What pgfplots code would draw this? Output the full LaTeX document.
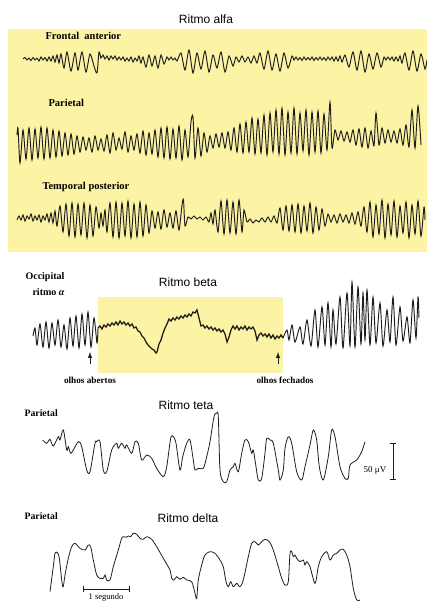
\documentclass[border=0pt]{standalone}
\usepackage{pgfplots}
\pgfplotsset{compat=1.18}
\usepackage{fontspec}
\setmainfont{Liberation Serif}
\newfontfamily\arial{Liberation Sans}
\definecolor{yel}{HTML}{FCF3A4}
\definecolor{ink}{HTML}{1E1E1E}
\tikzset{
  trace/.style={ink, line width=0.95pt, smooth, tension=0.45, mark=none},
  ttl/.style={font=\arial\fontsize{12}{14}\selectfont},
  lab/.style={font=\bfseries\fontsize{10.5}{12}\selectfont},
}
\begin{document}
\begin{tikzpicture}
\begin{axis}[
  scale only axis, width=427pt, height=603pt,
  xmin=0, xmax=427, ymin=0, ymax=603, y dir=reverse,
  hide axis, clip=false,
]
% yellow boxes
\fill[yel] (axis cs:8,29) rectangle (axis cs:427,252);
\fill[yel] (axis cs:98,297) rectangle (axis cs:283,373);

% titles and labels
\node[ttl] at (axis cs:206,19) {Ritmo alfa};
\node[lab, anchor=west] at (axis cs:42,36) {Frontal\ \ anterior};
\node[lab, anchor=west] at (axis cs:45,103) {Parietal};
\node[lab, anchor=west] at (axis cs:39,187) {Temporal posterior};
\node[anchor=west, font=\bfseries\fontsize{10}{12}\selectfont] at (axis cs:22,277) {Occipital};
\node[anchor=west, font=\bfseries\fontsize{10}{12}\selectfont] at (axis cs:29,292) {ritmo {\itshape α}};
\node[ttl] at (axis cs:188,282) {Ritmo beta};
\node[font=\bfseries\fontsize{9.2}{11}\selectfont] at (axis cs:90,380) {olhos abertos};
\node[font=\bfseries\fontsize{9.2}{11}\selectfont] at (axis cs:285,380) {olhos fechados};
\node[ttl] at (axis cs:186,405) {Ritmo teta};
\node[anchor=west, font=\bfseries\fontsize{9.8}{12}\selectfont] at (axis cs:21,413) {Parietal};
\node[ttl] at (axis cs:188,518) {Ritmo delta};
\node[anchor=west, font=\bfseries\fontsize{9.8}{12}\selectfont] at (axis cs:21,516) {Parietal};
\node[font=\fontsize{9}{11}\selectfont] at (axis cs:375,470) {50 μV};
\node[font=\fontsize{8.5}{10}\selectfont, anchor=base] at (axis cs:106,599.5) {1 segundo};

% arrows
\draw[-{latex}, line width=1pt, ink] (axis cs:90,364) -- (axis cs:90,352);
\draw[-{latex}, line width=1pt, ink] (axis cs:278,364) -- (axis cs:278,352);

% scale bars
\draw[line width=1pt, ink] (axis cs:393,443) -- (axis cs:393,479);
\draw[line width=1pt, ink] (axis cs:390,443) -- (axis cs:396,443);
\draw[line width=1pt, ink] (axis cs:390,479) -- (axis cs:396,479);
\draw[line width=1pt, ink] (axis cs:83,589) -- (axis cs:129,589);
\draw[line width=1pt, ink] (axis cs:83,586) -- (axis cs:83,592);
\draw[line width=1pt, ink] (axis cs:129,586) -- (axis cs:129,592);

% Frontal anterior
\addplot[trace] coordinates {
(23,59)(25,57.5)(27,60)(29,58)(31,60.5)(33,57.5)(35,60)(37,58)(39,61)(41,57)(43,60)(45,57.5)(47,61)(49,57)(51,61)(53,56)(55,62)(57,55)(59,63)(61,54)
(64,68)(67,52)(71,71)(75,53)(78,70)(82,52)(86,72)(90,54)(94,66)(97,73)(99,52)
(101,58)(103,55)(105,59)(107,56)(109,60)(111,56)(113,59)(115,56)(117,60)(119,57)(121,60)(123,57)(125,61)(127,58)(129,61)(131,57)(133,62)(135,58)(137,61)(139,56)(141,63)(143,57)
(146,67)(149,55)(152,66)(155,56)(158,68)(161,55)(164,64)(167,57)
(169,60)(171,57)(173,60)(175,58)(177,61)
(181,53)(185,70)(189,50)(193,73)(197,53)(201,69)(205,51)(209,72)(213,55)(217,68)(221,52)(225,72)(229,56)(233,66)
(236,57)(239,62)(242,56)(245,62)(248,57)(251,63)(254,56)(257,63)
(260,53)(264,69)(268,51)(272,70)(276,54)(280,71)(284,53)(288,68)(292,56)
(294,60)(296,57)(298,60)(300,57.5)(302,60.5)(304,57)(306,60)(308,57.5)(310,60)(312,57)(314,60.5)(316,57.5)(318,60)(320,57)(322,60)(324,57.5)(326,60.5)(328,57)(330,60)(332,57)(334,61)(336,57)(338,61)(340,56)(342,62)
(345,55)(349,67)(353,52)(357,70)(361,51)(365,72)(369,54)(373,69)(377,53)(381,67)
(384,57)(386,60)(388,57)(390,60)(392,57)(394,61)(396,57)(398,61)(400,56)(402,63)
(405,53)(409,70)(413,51)(417,71)(421,54)(425,69)(427,60)
};

% Parietal (alfa)
\addplot[trace] coordinates {
(17,135)(18,128)(20,163)
(23,130)(26,159)(29,128)(32,160)(35,129)(38,158)(41,127)(44,159)(47,128)(50,158)(53,130)(56,157)(59,131)(62,156)(65,133)(68,155)(71,134)(74,154)(77,136)
(80,152)(83,137)(86,150)(89,138)(92,152)(95,136)(98,150)(101,139)(104,151)(107,135)(110,153)(113,133)(116,150)(119,138)(122,149)(125,132)(128,152)(131,136)(134,150)(137,134)(140,153)(143,131)(146,155)(149,133)(152,154)(155,130)(158,157)
(161,128)(164,158)(167,127)(170,159)(173,129)(176,158)(179,126)(182,160)(185,130)(188,157)(191,122)(193,117)(195,158)(198,128)(201,156)(204,133)(207,152)(210,136)
(213,148)(216,134)(219,147)(222,133)(225,148)(228,132)(231,150)(234,128)
(237,152)(240,124)(243,153)(246,122)(249,152)(252,118)(255,154)(258,119)(261,153)(264,115)(267,155)(270,113)(273,152)(276,110)(279,154)(282,108)
(285,155)(288,112)(291,153)(294,108)(297,154)(300,113)(303,151)(306,110)(309,155)(312,112)(315,152)(318,111)(321,153)(324,114)(327,150)(330,102)
(332,148)(335,130)(338,140)(341,131)(344,141)(347,132)(350,142)(353,130)(356,145)(359,129)(362,147)(365,128)(368,148)(371,131)(374,146)(376,113)
(379,145)(382,128)(385,143)(388,130)(391,142)(394,131)(397,143)(400,129)(403,145)(406,125)
(409,147)(412,110)(415,148)(418,106)(421,145)
};

% Temporal posterior
\addplot[trace] coordinates {
(17,220)(19,216)(21,220)(23,215)(25,221)(27,216)(29,219)(31,214)(33,221)(35,216)(37,220)(39,215)(41,222)(43,216)(45,220)(47,214)(49,222)(51,213)(53,223)(55,211)(57,226)
(60,206)(63,232)(66,204)(69,236)(72,203)(75,237)(78,204)(81,235)(84,203)(87,238)(90,205)(93,236)(96,207)
(99,228)(101,213)(103,226)(105,210)(107,232)
(110,203)(113,237)(116,202)(119,238)(122,203)(125,236)(128,201)(131,238)(134,204)(137,237)(140,202)(143,236)(146,205)(149,233)
(152,211)(155,228)(158,212)(161,229)(164,210)(167,227)(170,213)(173,228)(176,211)(179,230)(182,205)(183.5,200)(185,226)
(188,217)(191,219)(194,216)(197,219)(200,217)(203,220)(206,217)
(209,222)(211,213)(213,224)(215,210)
(218,232)(221,201)(224,234)(227,200)(230,233)(233,202)(236,234)(239,200)(242,232)(244,210)
(247,222)(250,219)(253,223)(256,220)(259,222)(262,218)(265,222)(268,217)(271,222)(274,216)(277,223)
(280,208)(283,230)(286,206)(289,231)(292,205)(295,232)(298,204)(301,233)(304,206)(307,231)(310,203)(313,233)(316,207)(319,230)(322,209)(325,226)
(328,214)(331,222)(334,215)(337,223)(340,214)(343,222)(346,215)(349,223)(352,213)(355,224)(358,212)(361,226)
(364,207)(367,232)(370,202)(373,237)(376,205)(379,234)(382,200)(385,238)(388,204)(391,235)(394,201)(397,237)(400,206)(403,233)(406,202)(409,238)(412,205)(415,234)(418,201)(421,236)(424,207)(425,220)
};

% Occipital / beta
\addplot[trace] coordinates {
(33,336)(35,328)(37,345)(40,324)(43,347)(46,322)(49,348)(52,323)(55,345)(58,320)(61,347)(64,325)(67,349)(70,318)(73,346)(76,316)(79,348)(82,314)(85,345)(88,312)(91,347)(94,318)(97,343)(98,328)
};
\addplot[ink, line width=1.3pt, mark=none] coordinates {
(98,328)(100,326)(102,329)(104,325)(106,327)(108,324)(110,326)(112,323)(114,325)(116,322)(118,325)(120,321)(122,324)(124,322)(126,325)(128,323)(130,326)(132,324)(134,328)(136,327)(138,331)(140,332)(142,336)(144,338)(146,342)(148,345)(150,347)(152,349)(154,350)(156,353)(157,352)(159,344)(161,340)(163,333)(165,328)(167,324)(169,319)(171,321)(173,318)(175,320)(177,317)(179,319)(181,316)(183,318)(185,315)(187,317)(189,314)(191,316)(193,312)(195,313)(197,310)(199,318)(201,326)(203,325)(205,328)(207,326)(209,329)(211,327)(213,330)(215,328)(217,331)(219,329)(221,332)(223,330)(225,334)(227,342)(229,337)(231,330)(233,326)(235,329)(237,326)(239,330)(241,327)(243,329)(245,326)(247,330)(249,327)(251,329)(253,327)(255,331)(257,340)(259,335)(261,333)(263,336)(265,334)(267,337)(269,334)(271,338)(273,335)(275,339)(277,336)(279,338)(281,335)(283,338)
};
\addplot[trace] coordinates {
(283,338)(287,330)(289,340)(292,325)(295,342)(300,327)(303,344)(307,320)(311,346)(315,310)(318,347)(322,307)(325,345)(328,303)(331,347)(333,310)(336,344)(340,297)(343,348)(347,293)(350,346)(352,282)(355,347)(358,287)(361,344)(363,293)(365,340)(367,290)(370,345)(373,297)(376,343)(380,303)(383,346)(387,310)(390,342)(393,297)(396,345)(400,307)(403,341)(407,317)(410,343)(413,300)(416,338)(418,297)(419,318)
};

% Teta
\addplot[ink, line width=0.8pt, smooth, tension=0.5] coordinates {
(42.7,440)(46.7,443.3)(50,439.3)(53.3,446)(58.3,436.7)(60,440)(63.3,430)(66.7,450)(68.3,446.7)(70.7,453.3)(73.3,450)(78.3,441.7)(81.7,446.7)(86.7,470)(90,471.7)(95,443.3)(96.7,441.7)(100,441.7)(103.3,470)(106.7,471.7)(111.7,450)(116.7,443.3)(118.3,448.3)(121.7,443.3)(125,448.3)(126.7,445)(131.7,453.3)(135,441.7)(138.3,443.3)(141.7,460)(146.7,455)(151.7,458.3)(156.7,468.3)(163.3,476.7)(166.7,466.7)(170.7,438.3)(173.3,436.7)(176,443.3)(180,470)(182.7,456.7)(186.7,443.3)(190,440)(193.3,460)(195,470)(198.3,468.3)(203.3,468.3)(206.7,456.7)(210,441.7)(214,416.7)(216.7,413.3)(218.3,416.7)(220,470)(223.3,481.7)(226.7,481.7)(230,470)(233.3,466.7)(235,463.3)(238.3,471.7)(241.7,453.3)(245,440)(248.3,441.7)(251.7,453.3)(253.3,450)(256,466.7)(258.3,480)(261.7,478.3)(265,453.3)(266.7,438.3)(270,440)(273.3,443.3)(278.3,470)(280,480)(283.3,470)(285,448.3)(288.3,436.7)(291.7,443.3)(296.7,471.7)(301.7,480)(305,466.7)(310,445)(313.3,430)(316.7,440)(319.3,466.7)(323.3,480)(328.3,456.7)(331.7,430)(335,436.7)(340,466.7)(345,478.3)(348.3,478.3)(350,465)(356.7,460)(361.7,451.7)(365,441.7)
};

% Delta
\addplot[ink, line width=0.8pt, smooth, tension=0.5] coordinates {
(50,591.7)(53.3,566.7)(55,553.3)(57.3,552.7)(59.3,558.3)(62.7,586.7)(65,575)(68.3,558.3)(71.7,546.7)(75,543.3)(80,548.3)(85,550)(88.3,545)(90.7,546.7)(93.3,560)(96.7,575)(100,578.3)(103.3,578.3)(105,575)(106.7,580)(110,580)(113.3,566.7)(118.3,550)(121.7,538.3)(124,536.7)(126,537.3)(128.3,536)(130.7,536.7)(133.3,533.3)(136.7,534.3)(140,538.3)(143.3,539.3)(146.7,536.7)(151.7,539.3)(156.7,546.7)(163.3,558.3)(170,570)(171.7,578.3)(174,580)(176.7,576.7)(180,579.3)(183.3,577.3)(186.7,580)(191.7,581.7)(195,593.3)(196.7,598.3)(198.3,580)(201.7,565)(205,555)(210,551.7)(215,553.3)(220,560)(223.3,566.7)(226,581.7)(228.3,586.7)(230.7,581.7)(233.3,586.7)(236.7,583.3)(240,586.7)(243.3,580)(248.3,556.7)(251.7,543.3)(255,541.7)(258.3,545)(261.7,541.7)(265,539.3)(269.3,541.7)(273.3,550)(278.3,566.7)(281.7,578.3)(285,585)(288.3,581.7)(290,553.3)(291.7,551.7)(293.3,556.7)(295,555)(296.7,558.3)(300,561.7)(303.3,560)(305,565)(306.7,561.7)(310,566.7)(315,583.3)(318.3,566.7)(321.7,556.7)(326.7,551.7)(330,560)(333.3,555)(336.7,553.3)(340,550)(343.3,549.3)(346.7,555)(350,566.7)(353.3,588.3)(356.7,600)(360,600)
};
\end{axis}
\pgfresetboundingbox
\path[use as bounding box] (current axis.south west) rectangle (current axis.north east);
\end{tikzpicture}
\end{document}
